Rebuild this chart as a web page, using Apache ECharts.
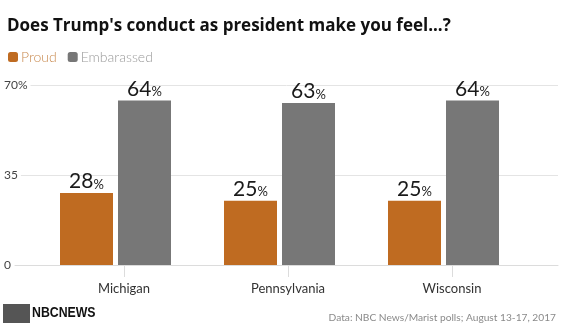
<!DOCTYPE html>
<html><head><meta charset="utf-8">
<script src="https://cdn.jsdelivr.net/npm/echarts@6/dist/echarts.min.js"></script>
<style>html,body{margin:0;padding:0;background:#fff}#c{width:562px;height:329px}</style>
</head><body><div id="c"></div>
<script>
const categories = ['Michigan', 'Pennsylvania', 'Wisconsin'];
const proud = [28, 25, 25];
const embarrassed = [64, 63, 64];
const seriesNames = ['Proud', 'Embarassed'];
const yMin = 0, yMax = 70, yStep = 35;
const titleText = "Does Trump's conduct as president make you feel...?";
const sourceText = 'Data: NBC News/Marist polls; August 13-17, 2017';

const chart = echarts.init(document.getElementById('c'), null, {renderer: 'canvas'});
const labelCfg = {
  show: true, position: 'top', distance: 1,
  formatter: p => '{n|' + p.value + '}{p|%}',
  rich: {
    n: {fontSize: 21, color: '#1a1a1a', fontFamily: 'Lato'},
    p: {fontSize: 13, color: '#1a1a1a', fontFamily: 'Lato', verticalAlign: 'bottom', padding: [0, 0, 1, 0]}
  }
};
chart.setOption({
  animation: false,
  title: {
    text: titleText, left: 2, top: 13,
    textStyle: {fontSize: 17, fontWeight: 'bold', color: '#111', fontFamily: 'Open Sans'}
  },
  legend: {
    left: 3, top: 45, icon: 'roundRect', itemWidth: 10, itemHeight: 10, itemGap: 11,
    textStyle: {fontSize: 14, fontFamily: 'Lato', fontWeight: 300, padding: [0, 0, 0, -2]},
    data: [
      {name: seriesNames[0], textStyle: {color: '#c98a4f'}},
      {name: seriesNames[1], textStyle: {color: '#9a9a9a'}}
    ],
    selectedMode: false
  },
  grid: [
    {left: 15, right: 4, top: 85, bottom: 64},
    {left: 42, right: 28, top: 85, bottom: 64}
  ],
  xAxis: [
    {gridIndex: 0, type: 'value', min: 0, max: 1, axisLabel: {show: false}, axisTick: {show: false},
     splitLine: {show: false}, axisLine: {show: true, lineStyle: {color: '#dcdcdc', width: 1}}},
    {gridIndex: 1, type: 'category', data: categories,
     axisLine: {show: false},
     axisTick: {show: true, alignWithLabel: true, length: 12, lineStyle: {color: '#dcdcdc'}},
     axisLabel: {fontSize: 13, color: '#333', fontFamily: 'Lato', margin: 17}}
  ],
  yAxis: [
    {gridIndex: 0, type: 'value', min: yMin, max: yMax, interval: yStep,
     axisLine: {show: false}, axisTick: {show: false},
     splitLine: {lineStyle: {color: '#e4e4e4'}},
     axisLabel: {align: 'left', margin: 11, fontSize: 12, color: '#444', fontFamily: 'Lato',
       backgroundColor: '#fff', padding: [0, 3, 0, 0],
       formatter: v => v === yMax ? v + '%' : String(v)}},
    {gridIndex: 1, type: 'value', min: yMin, max: yMax, interval: yStep, show: false}
  ],
  series: [
    {name: seriesNames[0], type: 'bar', xAxisIndex: 1, yAxisIndex: 1, data: proud,
     barWidth: 53, barGap: '9.43%', itemStyle: {color: '#bf6b21'}, label: labelCfg},
    {name: seriesNames[1], type: 'bar', xAxisIndex: 1, yAxisIndex: 1, data: embarrassed,
     barWidth: 53, barGap: '9.43%', itemStyle: {color: '#777777'}, label: labelCfg},
    {name: 'spacer', type: 'bar', xAxisIndex: 1, yAxisIndex: 1, data: categories.map(() => null),
     barWidth: 12, barGap: '9.43%', silent: true}
  ],
  graphic: [
    {type: 'rect', left: 3, top: 304, shape: {width: 27, height: 19}, style: {fill: '#555'}},
    {type: 'text', x: 32, y: 305, scaleX: 0.82, style: {text: 'NBCNEWS', fill: '#111',
      font: 'bold 15px "Liberation Sans", sans-serif'}},
    {type: 'text', right: 6, top: 313, style: {text: sourceText, fill: '#8a8a8a',
      font: '10.2px Lato'}}
  ]
});
</script></body></html>
